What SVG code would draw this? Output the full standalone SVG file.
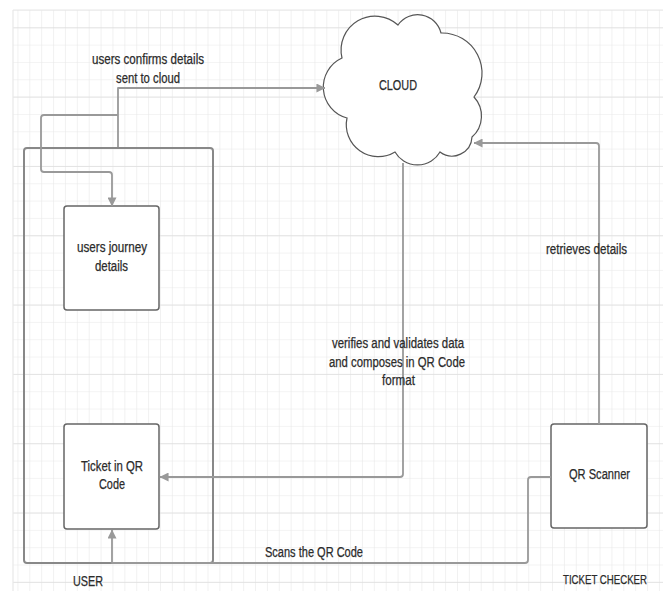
<svg xmlns="http://www.w3.org/2000/svg" width="670" height="591" viewBox="0 0 670 591">
  <style>
    .t { font-family: "Liberation Sans", Arial, sans-serif; font-size: 14px; fill: #2b2b2b; stroke: #2b2b2b; stroke-width: 0.25; text-anchor: middle; }
    .box { fill: #fff; stroke: #666; stroke-width: 1.5; }
    .cont { fill: none; stroke: #888; stroke-width: 2; }
    .conn { fill: none; stroke: #999; stroke-width: 1.8; stroke-linejoin: round; }
  </style>
  <defs>
    <pattern id="grid" patternUnits="userSpaceOnUse" x="5.54" y="9.97" width="11.88" height="17.33">
      <path d="M0,0 V17.33 M0,0 H11.88" fill="none" stroke="#e8e8e8" stroke-width="1.2"/>
    </pattern>
    <pattern id="gridMajor" patternUnits="userSpaceOnUse" x="0" y="27.3" width="670" height="69.32">
      <path d="M0,0 H670" fill="none" stroke="#dedede" stroke-width="1.4"/>
    </pattern>
    <marker id="arr" viewBox="0 0 10 10" refX="9.5" refY="5" markerWidth="5" markerHeight="5" orient="auto" markerUnits="strokeWidth">
      <path d="M0,0 L10,5 L0,10 Z" fill="#999"/>
    </marker>
  </defs>

  <rect x="0" y="0" width="670" height="591" fill="#fff"/>
  <g id="grid-bg">
    <rect x="13" y="10" width="650" height="581" fill="url(#grid)"/>
    <rect x="13" y="10" width="650" height="581" fill="url(#gridMajor)"/>
    <path d="M13,10 V591 M13,10 H663" stroke="#e8e8e8" stroke-width="1.2" fill="none"/>
  </g>

  <g id="user-container">
    <rect class="cont" x="24" y="148" width="189" height="415" rx="3"/>
    <text class="t" x="88" y="586" textLength="30" lengthAdjust="spacingAndGlyphs">USER</text>
  </g>

  <g id="ticket-checker-label">
    <text class="t" x="605" y="584" style="font-size:13px" textLength="84" lengthAdjust="spacingAndGlyphs">TICKET CHECKER</text>
  </g>

  <g id="cloud">
    <path d="M347,118 A32,32 0 0 1 342,58 A34,34 0 0 1 398,25 A24,24 0 0 1 441,33 A40,40 0 0 1 474,97 A28,28 0 0 1 472,137 A20,20 0 0 1 440,152 A26,26 0 0 1 395,152 A32,32 0 0 1 347,118 Z" fill="#fff" stroke="#555" stroke-width="1.2"/>
    <text class="t" x="398" y="90" textLength="38" lengthAdjust="spacingAndGlyphs">CLOUD</text>
  </g>

  <g id="journey">
    <rect class="box" x="64" y="206" width="95" height="104" rx="3"/>
    <text class="t" x="112" y="252" textLength="70" lengthAdjust="spacingAndGlyphs">users journey</text>
    <text class="t" x="111.5" y="271" textLength="33" lengthAdjust="spacingAndGlyphs">details</text>
  </g>

  <g id="ticket">
    <rect class="box" x="64" y="424" width="95" height="105" rx="3"/>
    <text class="t" x="112" y="471" textLength="62" lengthAdjust="spacingAndGlyphs">Ticket in QR</text>
    <text class="t" x="112" y="489" textLength="26" lengthAdjust="spacingAndGlyphs">Code</text>
  </g>

  <g id="scanner">
    <rect class="box" x="551" y="424" width="96" height="104" rx="3"/>
    <text class="t" x="599.5" y="479" textLength="61" lengthAdjust="spacingAndGlyphs">QR Scanner</text>
  </g>

  <g id="connectors">
    <path class="conn" d="M118,147 V88 H325" marker-end="url(#arr)"/>
    <path class="conn" d="M118,115 H44 Q41,115 41,118 V169 Q41,172 44,172 H109 Q112,172 112,175 V206" marker-end="url(#arr)"/>
    <path class="conn" d="M403,163 V474 Q403,477 400,477 H160" marker-end="url(#arr)"/>
    <path class="conn" d="M599,424 V146 Q599,143 596,143 H474" marker-end="url(#arr)"/>
    <path class="conn" d="M551,477 H531 Q528,477 528,480 V560 Q528,563 525,563 H112 V530" marker-end="url(#arr)"/>
    <text class="t" x="148" y="64" textLength="112" lengthAdjust="spacingAndGlyphs">users confirms  details</text>
    <text class="t" x="148" y="83" textLength="64" lengthAdjust="spacingAndGlyphs">sent to cloud</text>
    <text class="t" x="398" y="348" textLength="132" lengthAdjust="spacingAndGlyphs">verifies and validates data</text>
    <text class="t" x="397" y="367" textLength="136" lengthAdjust="spacingAndGlyphs">and composes in QR Code</text>
    <text class="t" x="398.5" y="385" textLength="33" lengthAdjust="spacingAndGlyphs">format</text>
    <text class="t" x="586.5" y="254" textLength="81" lengthAdjust="spacingAndGlyphs">retrieves details</text>
    <text class="t" x="314" y="557" textLength="98" lengthAdjust="spacingAndGlyphs">Scans the QR Code</text>
  </g>
</svg>
